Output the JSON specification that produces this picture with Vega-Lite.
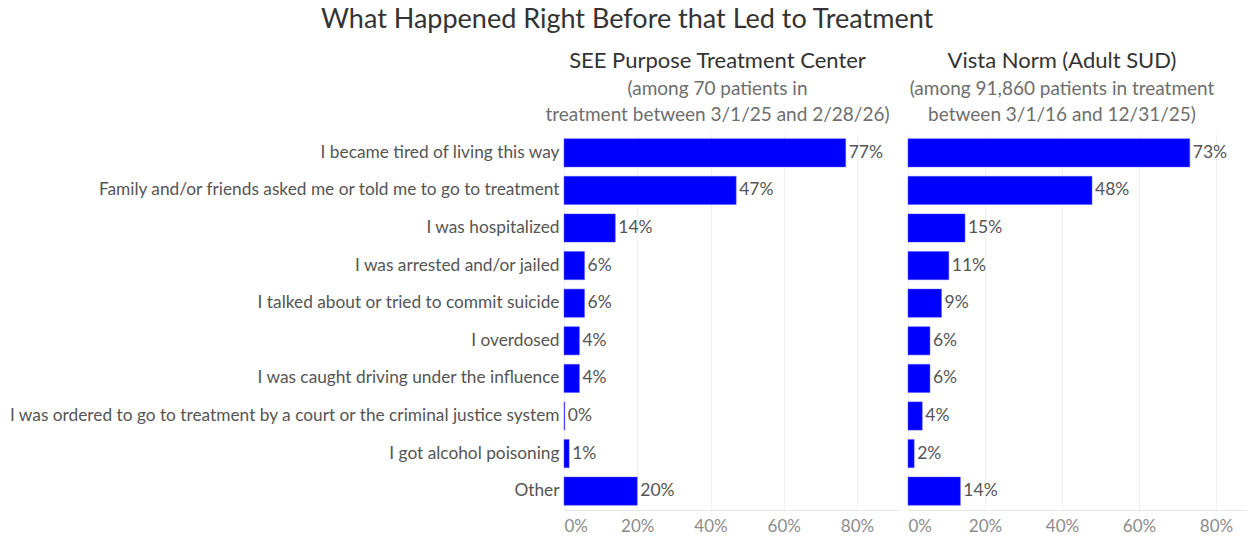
{
  "$schema": "https://vega.github.io/schema/vega-lite/v6.json",
  "background": "white",
  "padding": {"left": 8, "top": 6, "right": 2, "bottom": 2},
  "bounds": "flush",
  "title": {"text": "What Happened Right Before that Led to Treatment", "font": "Lato", "fontSize": 27, "fontWeight": "normal", "color": "#333333", "anchor": "middle", "offset": 16},
  "datasets": {
    "rows": [
      {"group": "SEE", "reason": "I became tired of living this way", "pct": 0.769},
      {"group": "SEE", "reason": "Family and/or friends asked me or told me to go to treatment", "pct": 0.47},
      {"group": "SEE", "reason": "I was hospitalized", "pct": 0.14},
      {"group": "SEE", "reason": "I was arrested and/or jailed", "pct": 0.056},
      {"group": "SEE", "reason": "I talked about or tried to commit suicide", "pct": 0.056},
      {"group": "SEE", "reason": "I overdosed", "pct": 0.042},
      {"group": "SEE", "reason": "I was caught driving under the influence", "pct": 0.042},
      {"group": "SEE", "reason": "I was ordered to go to treatment by a court or the criminal justice system", "pct": 0.002},
      {"group": "SEE", "reason": "I got alcohol poisoning", "pct": 0.014},
      {"group": "SEE", "reason": "Other", "pct": 0.2},
      {"group": "Vista", "reason": "I became tired of living this way", "pct": 0.732},
      {"group": "Vista", "reason": "Family and/or friends asked me or told me to go to treatment", "pct": 0.478},
      {"group": "Vista", "reason": "I was hospitalized", "pct": 0.148},
      {"group": "Vista", "reason": "I was arrested and/or jailed", "pct": 0.106},
      {"group": "Vista", "reason": "I talked about or tried to commit suicide", "pct": 0.087},
      {"group": "Vista", "reason": "I overdosed", "pct": 0.057},
      {"group": "Vista", "reason": "I was caught driving under the influence", "pct": 0.057},
      {"group": "Vista", "reason": "I was ordered to go to treatment by a court or the criminal justice system", "pct": 0.037},
      {"group": "Vista", "reason": "I got alcohol poisoning", "pct": 0.016},
      {"group": "Vista", "reason": "Other", "pct": 0.136}
    ]
  },
  "config": {
    "font": "Lato",
    "view": {"stroke": null},
    "concat": {"spacing": 7},
    "axis": {"gridColor": "#f0f0f0", "domainColor": "#e6e6e6", "labelColor": "#8c8c8c", "labelFont": "Lato"}
  },
  "hconcat": [
    {
      "width": 337,
      "height": 376,
      "data": {"name": "rows"},
      "transform": [{"filter": "datum.group === 'SEE'"}],
      "title": {"text": "SEE Purpose Treatment Center", "subtitle": ["(among 70 patients in", "treatment between 3/1/25 and 2/28/26)"], "anchor": "middle", "dx": -15, "font": "Lato", "fontSize": 22, "fontWeight": "normal", "color": "#333333", "subtitleFont": "Lato", "subtitleFontSize": 19, "subtitleColor": "#6e6e6e", "subtitleLineHeight": 26, "subtitlePadding": 7, "offset": 8},
      "encoding": {
        "y": {"field": "reason", "type": "nominal", "sort": null, "title": null, "scale": {"paddingInner": 0.25, "paddingOuter": 0.125}, "axis": {"domain": false, "ticks": false, "labelPadding": 5, "labelFontSize": 17.3, "labelColor": "#555555", "labelLimit": 700}},
        "x": {"field": "pct", "type": "quantitative", "title": null, "scale": {"domain": [0, 0.92], "nice": false}, "axis": {"values": [0, 0.2, 0.4, 0.6, 0.8], "format": ".0%", "ticks": false, "labelFontSize": 17, "labelPadding": 8, "labelFlush": true}}
      },
      "layer": [
        {"mark": {"type": "bar", "color": "#0000ff", "stroke": "#5555ff", "strokeWidth": 0.5}},
        {"mark": {"type": "text", "align": "left", "baseline": "middle", "dx": 3, "fontSize": 17.5, "color": "#555555"}, "encoding": {"text": {"field": "pct", "type": "quantitative", "format": ".0%"}}}
      ]
    },
    {
      "width": 338,
      "height": 376,
      "data": {"name": "rows"},
      "transform": [{"filter": "datum.group === 'Vista'"}],
      "title": {"text": "Vista Norm (Adult SUD)", "subtitle": ["(among 91,860 patients in treatment", "between 3/1/16 and 12/31/25)"], "anchor": "middle", "dx": -15, "font": "Lato", "fontSize": 22, "fontWeight": "normal", "color": "#333333", "subtitleFont": "Lato", "subtitleFontSize": 19, "subtitleColor": "#6e6e6e", "subtitleLineHeight": 26, "subtitlePadding": 7, "offset": 8},
      "encoding": {
        "y": {"field": "reason", "type": "nominal", "sort": null, "title": null, "scale": {"paddingInner": 0.25, "paddingOuter": 0.125}, "axis": null},
        "x": {"field": "pct", "type": "quantitative", "title": null, "scale": {"domain": [0, 0.878], "nice": false}, "axis": {"values": [0, 0.2, 0.4, 0.6, 0.8], "format": ".0%", "ticks": false, "labelFontSize": 17, "labelPadding": 8, "labelFlush": true}}
      },
      "layer": [
        {"mark": {"type": "bar", "color": "#0000ff", "stroke": "#5555ff", "strokeWidth": 0.5}},
        {"mark": {"type": "text", "align": "left", "baseline": "middle", "dx": 3, "fontSize": 17.5, "color": "#555555"}, "encoding": {"text": {"field": "pct", "type": "quantitative", "format": ".0%"}}}
      ]
    }
  ]
}
